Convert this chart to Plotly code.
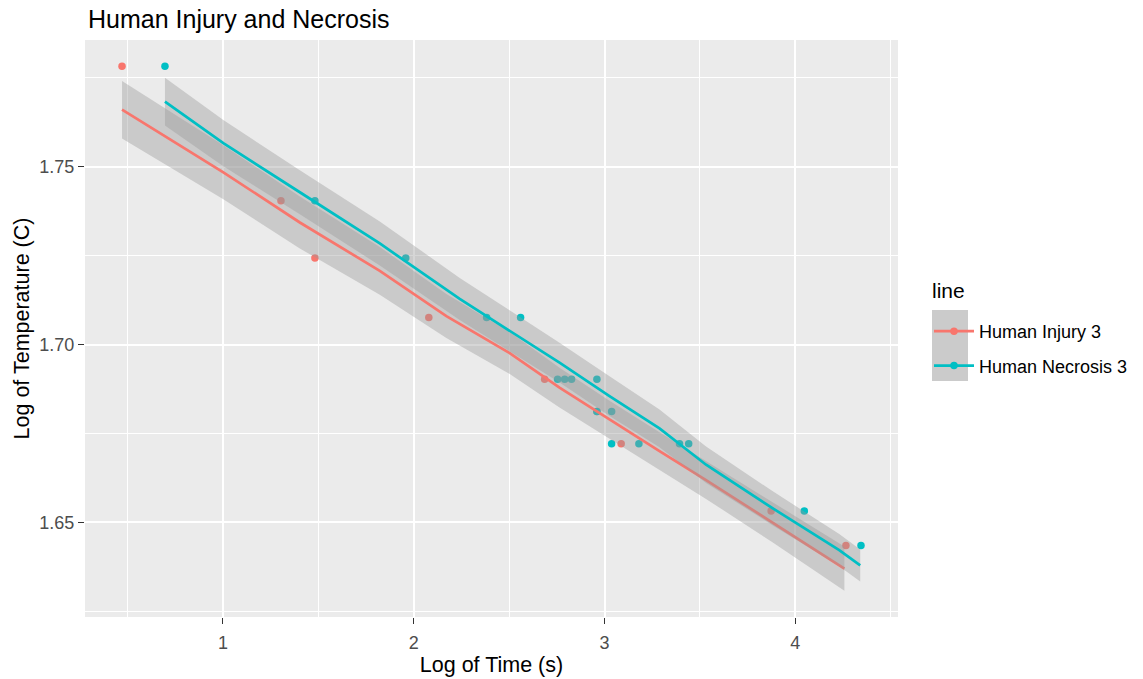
import plotly.graph_objects as go

# Observations: log10 of time (s) vs log10 of temperature (C)
injury_log_time = [0.471, 1.304, 1.482, 2.079, 2.686, 2.960, 3.087, 3.873, 4.265]
injury_log_temp = [1.7782, 1.7404, 1.7243, 1.7076, 1.6902, 1.6812, 1.6721, 1.6532, 1.6435]

necrosis_log_time = [0.696, 1.482, 1.958, 2.382, 2.560, 2.754, 2.791, 2.827, 2.960,
                     2.960, 3.037, 3.037, 3.180, 3.393, 3.441, 4.047, 4.344]
necrosis_log_temp = [1.7782, 1.7404, 1.7243, 1.7076, 1.7076, 1.6902, 1.6902, 1.6902, 1.6902,
                     1.6812, 1.6812, 1.6721, 1.6721, 1.6721, 1.6721, 1.6532, 1.6435]

# Smoothed fits with their confidence half-widths
injury_fit_x = [0.471, 1.002, 1.403, 1.822, 2.171, 2.503, 2.764, 3.026, 3.288, 3.532, 3.880, 4.257]
injury_fit_y = [1.7660, 1.7484, 1.7343, 1.7207, 1.7080, 1.6976, 1.6879, 1.6789, 1.6700, 1.6619, 1.6500, 1.6370]
injury_fit_se = [0.0081, 0.0076, 0.0073, 0.0067, 0.0062, 0.0059, 0.0056, 0.0053, 0.0053, 0.0053, 0.0056, 0.0062]

necrosis_fit_x = [0.696, 1.002, 1.403, 1.822, 2.241, 2.764, 3.026, 3.288, 3.532, 3.880, 4.230, 4.340]
necrosis_fit_y = [1.7683, 1.7566, 1.7428, 1.7284, 1.7128, 1.6949, 1.6855, 1.6764, 1.6662, 1.6540, 1.6422, 1.6379]
necrosis_fit_se = [0.0067, 0.0065, 0.0062, 0.0062, 0.0059, 0.0056, 0.0056, 0.0053, 0.0051, 0.0048, 0.0045, 0.0045]

series_names = ["Human Injury 3", "Human Necrosis 3"]
series_colors = ["#F8766D", "#00BFC4"]
legend_title = "line"

x_ticks = [1, 2, 3, 4]
y_ticks = [1.65, 1.70, 1.75]
y_tick_text = ["1.65", "1.70", "1.75"]

RIBBON = "rgba(153,153,153,0.4)"
FONT = "Liberation Sans, Arial, sans-serif"

# pixel geometry of the plotting panel
L, R, T, B = 85, 245, 40, 62
PW, PH = 1143 - L - R, 679 - T - B


def px_x(p):
    return (p - L) / PW


def px_y(p):
    return (679 - B - p) / PH


fig = go.Figure()

# points first, so the confidence ribbons sit on top of them
for xs, ys, col in [(injury_log_time, injury_log_temp, series_colors[0]),
                    (necrosis_log_time, necrosis_log_temp, series_colors[1])]:
    fig.add_trace(go.Scatter(x=xs, y=ys, mode="markers",
                             marker=dict(color=col, size=7.5, line=dict(width=0)),
                             showlegend=False, hoverinfo="x+y"))

for xs, ys, se, col in [(injury_fit_x, injury_fit_y, injury_fit_se, series_colors[0]),
                        (necrosis_fit_x, necrosis_fit_y, necrosis_fit_se, series_colors[1])]:
    upper = [y + s for y, s in zip(ys, se)]
    lower = [y - s for y, s in zip(ys, se)]
    fig.add_trace(go.Scatter(x=xs + xs[::-1], y=upper + lower[::-1], fill="toself",
                             fillcolor=RIBBON, line=dict(width=0), mode="lines",
                             showlegend=False, hoverinfo="skip"))
    fig.add_trace(go.Scatter(x=xs, y=ys, mode="lines",
                             line=dict(color=col, width=2.7),
                             showlegend=False, hoverinfo="x+y"))

# legend keys: line with a dot
for i, (name, col) in enumerate(zip(series_names, series_colors)):
    fig.add_trace(go.Scatter(x=[None], y=[None], mode="lines+markers", name=name,
                             legendgroup=f"g{i}",
                             line=dict(color=col, width=2.7),
                             marker=dict(color=col, size=7.5)))

# grey key background behind the legend symbols
fig.add_shape(type="rect", xref="paper", yref="paper",
              x0=px_x(932), x1=px_x(968), y0=px_y(381), y1=px_y(310),
              fillcolor="#CBCBCB", line=dict(width=0), layer="below")

fig.add_annotation(text=legend_title, xref="paper", yref="paper",
                   x=px_x(930), y=px_y(290), xanchor="left", yanchor="middle",
                   showarrow=False, font=dict(family=FONT, size=21, color="black"))

axis_common = dict(
    showline=False, zeroline=False, automargin=False,
    gridcolor="white", gridwidth=2,
    ticks="outside", ticklen=6, tickwidth=1.4, tickcolor="#333333",
    tickfont=dict(family=FONT, size=18, color="#4D4D4D"),
)

fig.update_layout(
    width=1143, height=679,
    margin=dict(l=L, r=R, t=T, b=B, autoexpand=False),
    paper_bgcolor="white", plot_bgcolor="#EBEBEB",
    font=dict(family=FONT, color="black"),
    title=dict(text="Human Injury and Necrosis", x=88 / 1143, xanchor="left",
               y=1 - 19 / 679, yanchor="middle", xref="container", yref="container",
               font=dict(family=FONT, size=25, color="black")),
    xaxis=dict(axis_common, range=[0.277, 4.538], tickvals=x_ticks, ticklabelstandoff=3,
               minor=dict(dtick=0.5, tick0=0, showgrid=True, gridcolor="white", gridwidth=1, ticks=""),
               title=dict(text="Log of Time (s)", font=dict(family=FONT, size=21.5, color="black"),
                          standoff=5)),
    yaxis=dict(axis_common, range=[1.6234, 1.7856], tickvals=y_ticks, ticktext=y_tick_text,
               minor=dict(dtick=0.025, tick0=1.6, showgrid=True, gridcolor="white", gridwidth=1, ticks=""),
               title=dict(text="Log of Temperature (C)", font=dict(family=FONT, size=21.5, color="black"),
                          standoff=3)),
    legend=dict(x=px_x(929), xanchor="left", y=px_y(313), yanchor="top",
                bgcolor="rgba(0,0,0,0)", traceorder="grouped", tracegroupgap=8,
                itemwidth=40,
                font=dict(family=FONT, size=18, color="black")),
)

fig.write_html("out.html")
